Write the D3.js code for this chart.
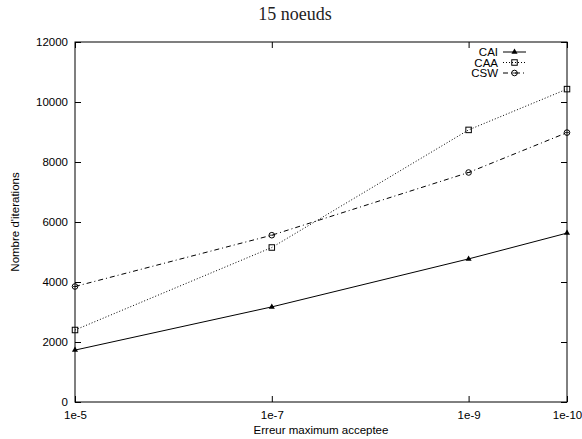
<!DOCTYPE html>
<html>
<head>
<meta charset="utf-8">
<script src="https://cdn.jsdelivr.net/npm/d3@7"></script>
<style>
  html, body { margin: 0; padding: 0; background: #fff; }
  svg { display: block; }
</style>
</head>
<body>
<div id="chart"></div>
<script>
// ---- data ----
const categories = ["1e-5", "1e-7", "1e-9", "1e-10"];
const exponents = [5, 7, 9, 10];
const seriesNames = ["CAI", "CAA", "CSW"];
const caiValues = [1730, 3170, 4770, 5630];
const caaValues = [2400, 5150, 9070, 10430];
const cswValues = [3850, 5560, 7650, 8980];
const yTicks = [0, 2000, 4000, 6000, 8000, 10000, 12000];
const titleText = "15 noeuds";
const xLabel = "Erreur maximum acceptee";
const yLabel = "Nombre d'iterations";

const W = 582, H = 439;
const m = { left: 75, right: 15, top: 42, bottom: 37 };

const svg = d3.select("#chart").append("svg")
  .attr("width", W).attr("height", H);

const x = d3.scaleLinear().domain([5, 10]).range([m.left, W - m.right]);
const y = d3.scaleLinear().domain([0, 12000]).range([H - m.bottom, m.top]);

const font = "'Liberation Sans', Arial, sans-serif";

// frame
svg.append("rect")
  .attr("x", x(5)).attr("y", y(12000))
  .attr("width", x(10) - x(5)).attr("height", y(0) - y(12000))
  .attr("fill", "none").attr("stroke", "#000").attr("stroke-width", 1);

// axes
const tickLen = 6;
const xAxis = d3.axisBottom(x).tickValues(exponents)
  .tickFormat((d, i) => categories[i]).tickSizeInner(-tickLen).tickSizeOuter(0).tickPadding(9);
const gx = svg.append("g").attr("transform", `translate(0,${y(0)})`).call(xAxis);
const yAxis = d3.axisLeft(y).tickValues(yTicks).tickFormat(d3.format("d"))
  .tickSizeInner(-tickLen).tickSizeOuter(0).tickPadding(7);
const gy = svg.append("g").attr("transform", `translate(${x(5)},0)`).call(yAxis);
// mirror ticks
const gxt = svg.append("g").attr("transform", `translate(0,${y(12000)})`)
  .call(d3.axisTop(x).tickValues(exponents).tickFormat("").tickSizeInner(-tickLen).tickSizeOuter(0));
const gyr = svg.append("g").attr("transform", `translate(${x(10)},0)`)
  .call(d3.axisRight(y).tickValues(yTicks).tickFormat("").tickSizeInner(-tickLen).tickSizeOuter(0));

[gx, gy, gxt, gyr].forEach(g => {
  g.select(".domain").remove();
  g.selectAll("line").attr("stroke", "#000");
  g.selectAll("text").attr("font-family", font).attr("font-size", 11.5).attr("fill", "#000");
});

// titles
svg.append("text").attr("x", 295).attr("y", 20)
  .attr("text-anchor", "middle").attr("font-family", "'Liberation Serif', 'DejaVu Serif', serif")
  .attr("font-size", 18).attr("fill", "#222").text(titleText);
svg.append("text").attr("x", (x(5) + x(10)) / 2).attr("y", 434)
  .attr("text-anchor", "middle").attr("font-family", font).attr("font-size", 11.5).text(xLabel);
svg.append("text")
  .attr("transform", `translate(19,${(y(0) + y(12000)) / 2}) rotate(-90)`)
  .attr("text-anchor", "middle").attr("font-family", font).attr("font-size", 11.5).text(yLabel);

// series
const series = [
  { name: seriesNames[0], values: caiValues, dash: null, marker: "tri" },
  { name: seriesNames[1], values: caaValues, dash: "1,2", marker: "sq" },
  { name: seriesNames[2], values: cswValues, dash: "5,3,1,3", marker: "circ" }
];

function drawMarker(g, type, cx, cy) {
  if (type === "tri") {
    g.append("path").attr("d", d3.symbol(d3.symbolTriangle, 16)())
      .attr("transform", `translate(${cx},${cy})`).attr("fill", "#000");
  } else if (type === "sq") {
    g.append("rect").attr("x", cx - 2.75).attr("y", cy - 2.75).attr("width", 5.5).attr("height", 5.5)
      .attr("fill", "none").attr("stroke", "#000").attr("stroke-width", 1);
  } else {
    g.append("circle").attr("cx", cx).attr("cy", cy).attr("r", 2.8)
      .attr("fill", "none").attr("stroke", "#000").attr("stroke-width", 1);
    g.append("line").attr("x1", cx - 2).attr("x2", cx + 2).attr("y1", cy).attr("y2", cy)
      .attr("stroke", "#000").attr("stroke-width", 0.8);
  }
}

const line = d3.line().x((d, i) => x(exponents[i])).y(d => y(d));
series.forEach(s => {
  svg.append("path").datum(s.values).attr("d", line)
    .attr("fill", "none").attr("stroke", "#000").attr("stroke-width", 1)
    .attr("stroke-dasharray", s.dash);
  const g = svg.append("g");
  s.values.forEach((v, i) => drawMarker(g, s.marker, x(exponents[i]), y(v)));
});

// legend
series.forEach((s, i) => {
  const ly = 52 + i * 10.5;
  svg.append("text").attr("x", 498).attr("y", ly + 4).attr("text-anchor", "end")
    .attr("font-family", font).attr("font-size", 11.5).text(s.name);
  svg.append("line").attr("x1", 503).attr("x2", 526).attr("y1", ly).attr("y2", ly)
    .attr("stroke", "#000").attr("stroke-width", 1).attr("stroke-dasharray", s.dash);
  const g = svg.append("g");
  drawMarker(g, s.marker, 514.5, ly);
});
</script>
</body>
</html>
